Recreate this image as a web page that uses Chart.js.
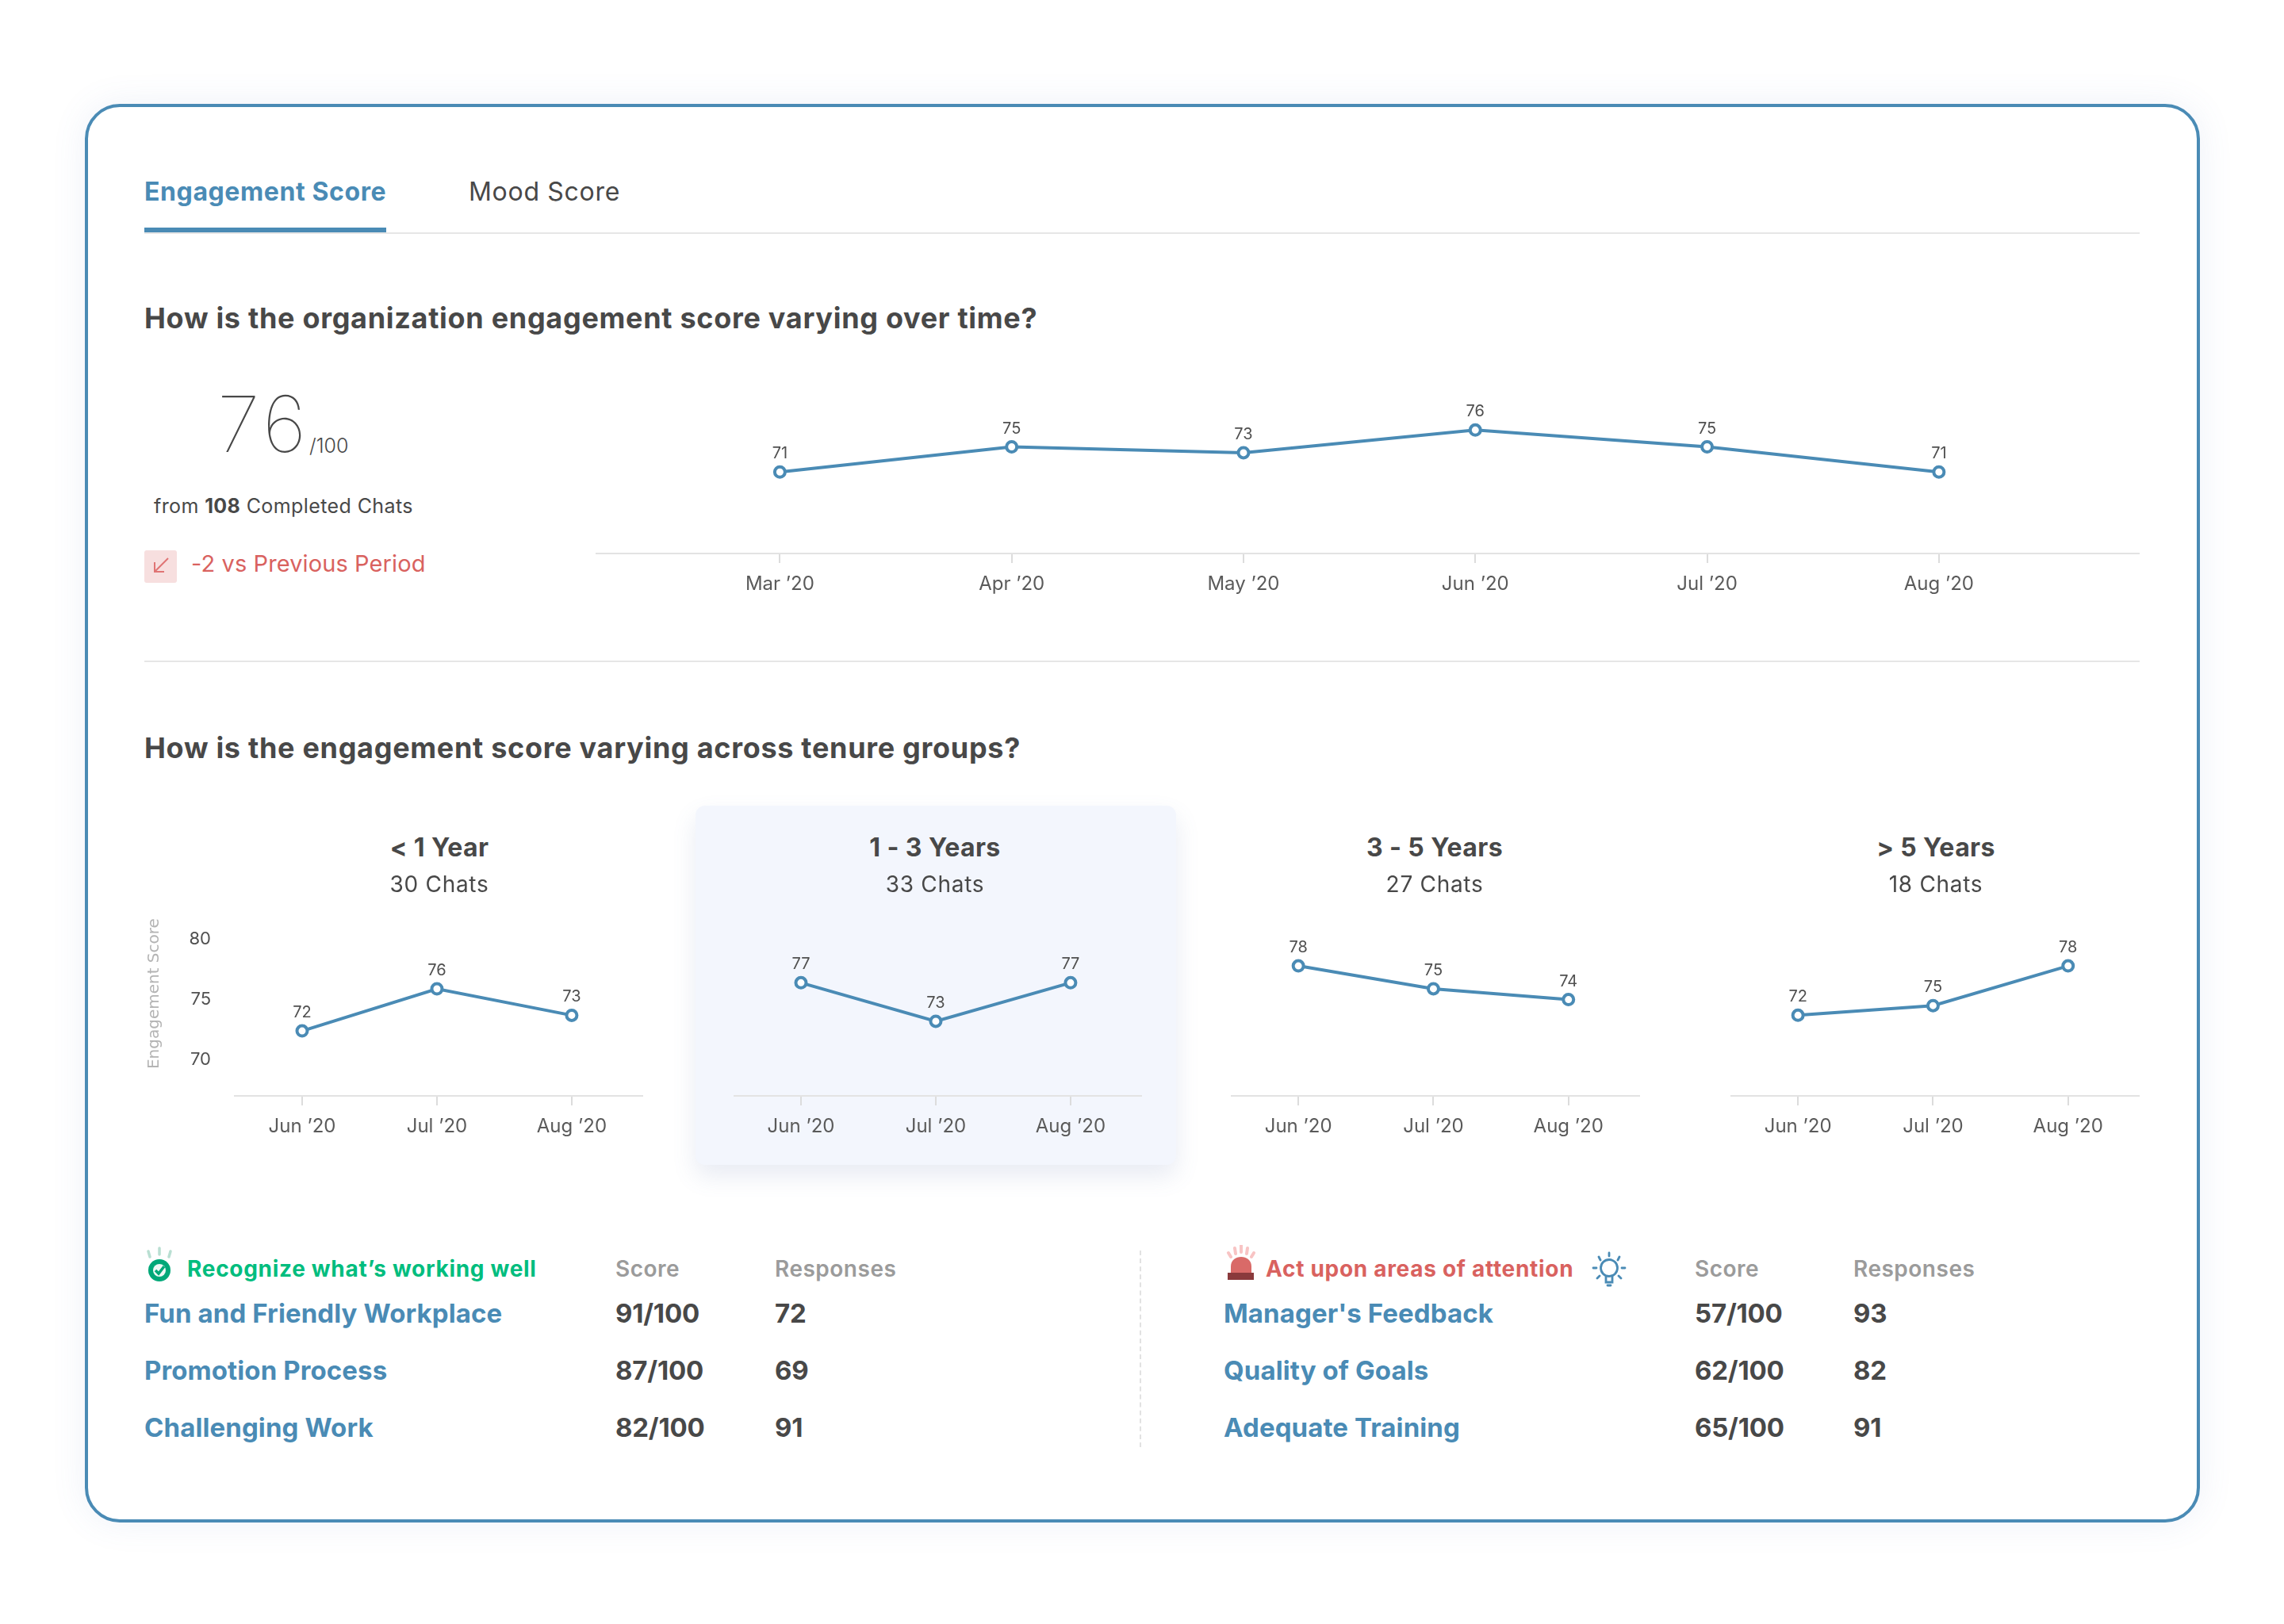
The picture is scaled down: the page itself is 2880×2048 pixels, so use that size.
<!DOCTYPE html>
<html>
<head>
<meta charset="utf-8">
<title>Engagement Score</title>
<script src="https://cdn.jsdelivr.net/npm/chart.js@4"></script>
<style>
  html, body { margin: 0; padding: 0; background: #fff; }
  #page { position: relative; width: 2880px; height: 2048px; overflow: hidden; font-family: Inter, sans-serif; color: #484848; }
  #card { position: absolute; left: 107px; top: 131px; width: 2667px; height: 1789px; box-sizing: border-box; border: 4px solid #4a8bb5; border-radius: 44px; background: #fff; box-shadow: 0 0 44px rgba(90, 120, 190, .10); }
  .line { position: absolute; background: #e6e6e6; height: 2px; }
  .txt { position: absolute; white-space: nowrap; transform: translateY(-50%); line-height: 1.2; }
  .mid { transform: translate(-50%, -50%); }
  canvas { position: absolute; }
  #panel { position: absolute; left: 877px; top: 1016px; width: 606px; height: 453px; border-radius: 12px; background: #f3f6fd; box-shadow: 0 14px 30px rgba(90, 110, 170, .14); }
  svg { position: absolute; }
</style>
</head>
<body>
<div id="page">
  <div id="card"></div>
  <div class="line" style="left:182px;top:293px;width:2516px"></div>
  <div style="position:absolute;left:182px;top:287px;width:305px;height:6px;background:#4a8bb5"></div>
  <div class="line" style="left:182px;top:833px;width:2516px"></div>
  <div id="panel"></div>
  <div style="position:absolute;left:1437px;top:1577px;height:248px;border-left:2px dashed #e2e2e2"></div>

  <svg style="left:182px;top:694px" width="41" height="41" viewBox="0 0 41 41">
    <rect width="41" height="41" rx="3" fill="#f7dfdf"/>
    <path d="M30 10 L13 27 M13 15 L13 27 L25 27" fill="none" stroke="#e07474" stroke-width="2"/>
  </svg>
  <svg style="left:182px;top:1572px" width="40" height="46" viewBox="0 0 40 46">
    <path d="M5 6 L7 13 M19 2 L19 10 M33 6 L31 13" stroke="#b9dfd2" stroke-width="3.5" stroke-linecap="round"/>
    <circle cx="19" cy="30" r="14" fill="#00a878"/>
    <circle cx="19" cy="30" r="8" fill="#eef8f4"/>
    <path d="M14 30 L18 34 L25 25" fill="none" stroke="#00a878" stroke-width="3.5"/>
  </svg>
  <svg style="left:1543px;top:1570px" width="44" height="46" viewBox="0 0 44 46">
    <path d="M6 10 L9 15 M14 4 L15 11 M22 1 L22 9 M30 4 L29 11 M38 10 L35 15" stroke="#f8c4c4" stroke-width="4" stroke-linecap="round"/>
    <path d="M9 36 L9 27 C9 11 35 11 35 27 L35 36 Z" fill="#d96a68"/>
    <rect x="5" y="35" width="33" height="9" fill="#8a3a3c"/>
  </svg>
  <svg style="left:2006px;top:1578px" width="46" height="50" viewBox="0 0 46 50">
    <g fill="none" stroke="#4a8bb5" stroke-width="2.8" stroke-linecap="round">
      <circle cx="23" cy="21" r="10.5"/>
      <path d="M23 2 L23 6 M10 7 L12 11 M36 7 L34 11 M3 21 L7 21 M39 21 L43 21 M8 34 L11 31 M38 34 L35 31"/>
      <path d="M19 32 L19 39 L27 39 L27 32 M21 43 L25 43"/>
    </g>
  </svg>

  <canvas id="overallChart" width="1947" height="258" style="left:751px;top:500px"></canvas>
  <canvas id="tenure0" width="631" height="331" style="left:180px;top:1111px"></canvas>
  <canvas id="tenure1" width="515" height="318" style="left:925px;top:1124px"></canvas>
  <canvas id="tenure2" width="516" height="318" style="left:1552px;top:1124px"></canvas>
  <canvas id="tenure3" width="516" height="318" style="left:2182px;top:1124px"></canvas>
</div>

<script>
const blue = "#4a8bb5";
const dark = "#484848";

// overall trend
const overallMonths = ["Mar ’20", "Apr ’20", "May ’20", "Jun ’20", "Jul ’20", "Aug ’20"];
const overallHeights = [71, 74, 73.3, 76, 74, 71]; // as plotted in the picture
const overallLabels = [71, 75, 73, 76, 75, 71];    // as printed above the points

// tenure groups
const tenureMonths = ["Jun ’20", "Jul ’20", "Aug ’20"];
const tenureGroups = ["< 1 Year", "1 - 3 Years", "3 - 5 Years", "> 5 Years"];
const tenureChats = ["30 Chats", "33 Chats", "27 Chats", "18 Chats"];
const tenureHeights = [
  [72.4, 75.9, 73.7],
  [76.4, 73.2, 76.4],
  [77.8, 75.9, 75],
  [73.7, 74.5, 77.8]
];
const tenureLabels = [
  [72, 76, 73],
  [77, 73, 77],
  [78, 75, 74],
  [72, 75, 78]
];
const tenureTicks = [70, 75, 80];

// tables
const wellTopics = ["Fun and Friendly Workplace", "Promotion Process", "Challenging Work"];
const wellScores = ["91/100", "87/100", "82/100"];
const wellResponses = ["72", "69", "91"];
const attentionTopics = ["Manager's Feedback", "Quality of Goals", "Adequate Training"];
const attentionScores = ["57/100", "62/100", "65/100"];
const attentionResponses = ["93", "82", "91"];

const page = document.getElementById("page");

function addText(text, x, y, size, weight, color, spacing, centered) {
  const el = document.createElement("div");
  el.className = centered ? "txt mid" : "txt";
  el.style.left = x + "px";
  el.style.top = y + "px";
  el.style.fontSize = size + "px";
  el.style.fontWeight = weight;
  el.style.color = color;
  el.style.letterSpacing = (spacing || 0) + "px";
  el.innerHTML = text;
  page.appendChild(el);
  return el;
}

addText("Engagement Score", 182, 242, 32, 700, blue, 0.6);
addText("Mood Score", 591, 242, 32, 400, dark, 0.7);
addText("How is the organization engagement score varying over time?", 182, 402, 36, 700, dark, 0.7);
addText("How is the engagement score varying across tenure groups?", 182, 944, 36, 700, dark, 0.7);
addText("76", 274, 535, 98, 100, dark, 5);
addText("/100", 390, 562, 25, 300, dark);
addText("from <b>108</b> Completed Chats", 194, 638, 25, 400, dark, 0.4);
addText("-2 vs Previous Period", 241, 711, 29, 400, "#d9625f", 0.1);

const panelCenters = [554, 1179, 1809, 2441];
tenureGroups.forEach((group, i) => {
  addText(group.replace("<", "&lt;").replace(">", "&gt;"), panelCenters[i], 1069, 32, 700, dark, 0.4, true);
  addText(tenureChats[i], panelCenters[i], 1116, 28, 400, dark, 0.7, true);
});

function addTable(topicX, scoreX, responseX, heading, headingX, headingColor, topics, scores, responses) {
  addText(heading, headingX, 1601, 28, 700, headingColor, 0.7);
  addText("Score", scoreX, 1601, 28, 600, "#9b9b9b", 0.5);
  addText("Responses", responseX, 1601, 28, 600, "#9b9b9b", 0.5);
  const rowY = [1657, 1729, 1801];
  topics.forEach((topic, i) => {
    addText(topic, topicX, rowY[i], 33, 700, blue, 0.1);
    addText(scores[i], scoreX, rowY[i], 33, 700, dark, -0.2);
    addText(responses[i], responseX, rowY[i], 33, 700, dark, -0.2);
  });
}

addTable(182, 776, 977, "Recognize what’s working well", 236, "#00bd7e", wellTopics, wellScores, wellResponses);
addTable(1543, 2137, 2337, "Act upon areas of attention", 1596, "#d9625f", attentionTopics, attentionScores, attentionResponses);

// chart.js has no data labels of its own
const pointLabels = {
  id: "pointLabels",
  afterDatasetsDraw(chart, args, opts) {
    const ctx = chart.ctx;
    const meta = chart.getDatasetMeta(0);
    ctx.save();
    ctx.font = "400 20px Inter";
    ctx.fillStyle = "#505050";
    ctx.textAlign = "center";
    ctx.textBaseline = "middle";
    meta.data.forEach((pt, i) => {
      ctx.fillText(opts.labels[i], pt.x, pt.y - 23);
    });
    ctx.restore();
  }
};

function lineDataset(values) {
  return {
    data: values.map((v, i) => ({ x: i, y: v })),
    borderColor: blue,
    borderWidth: 4,
    pointRadius: 6.5,
    pointBorderWidth: 4,
    pointBorderColor: blue,
    pointBackgroundColor: "#fff",
    tension: 0
  };
}

const tickFont = { family: "Inter", size: 24, weight: 400 };
const xGrid = { drawOnChartArea: false, drawTicks: true, tickLength: 12, color: "#dcdcdc", lineWidth: 2 };
const xBorder = { color: "#e3e3e3", width: 2 };

function monthAxis(min, max, months) {
  return {
    type: "linear",
    min: min,
    max: max,
    afterFit: s => { s.height = 60; },
    grid: xGrid,
    border: xBorder,
    ticks: {
      stepSize: 1,
      includeBounds: false,
      autoSkip: false,
      maxRotation: 0,
      font: tickFont,
      color: "#5a5a5a",
      padding: 12,
      callback: v => months[v]
    }
  };
}

new Chart(document.getElementById("overallChart"), {
  type: "line",
  data: { datasets: [lineDataset(overallHeights)] },
  options: {
    responsive: false,
    animation: false,
    devicePixelRatio: 1,
    layout: { padding: 0, autoPadding: false },
    plugins: { legend: { display: false }, tooltip: { enabled: false }, pointLabels: { labels: overallLabels } },
    scales: {
      x: monthAxis(-0.795, 5.866, overallMonths),
      y: { display: false, min: 61.3, max: 80 }
    }
  },
  plugins: [pointLabels]
});

tenureHeights.forEach((values, i) => {
  const first = i === 0;
  new Chart(document.getElementById("tenure" + i), {
    type: "line",
    data: { datasets: [lineDataset(values)] },
    options: {
      responsive: false,
      animation: false,
      devicePixelRatio: 1,
      layout: { padding: 0, autoPadding: false },
      plugins: { legend: { display: false }, tooltip: { enabled: false }, pointLabels: { labels: tenureLabels[i] } },
      scales: {
        x: monthAxis(-0.5, 2.53, tenureMonths),
        y: {
          display: first,
          min: 67,
          max: 84,
          afterFit: s => { if (first) s.width = 116; },
          grid: { display: true, drawOnChartArea: false, tickLength: 30, color: "transparent" },
          border: { display: false },
          title: { display: true, text: "Engagement Score", color: "#b4b4b4", padding: 3, font: { family: "DejaVu Sans", size: 20 } },
          afterBuildTicks: s => { s.ticks = tenureTicks.map(v => ({ value: v })); },
          ticks: { font: { family: "Inter", size: 22 }, color: "#505050", padding: 0 }
        }
      }
    },
    plugins: [pointLabels]
  });
});
</script>
</body>
</html>
